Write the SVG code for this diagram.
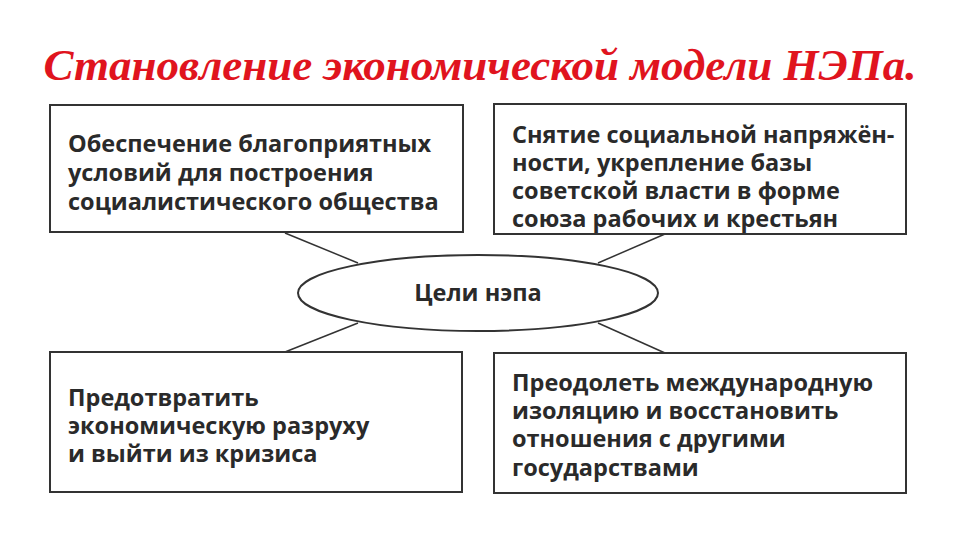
<svg xmlns="http://www.w3.org/2000/svg" width="960" height="540" viewBox="0 0 960 540">
<style>
.t{font-family:"Liberation Serif",serif;font-style:italic;font-weight:bold;font-size:45px;fill:#e0141e}
.b{fill:#fff;stroke:#333;stroke-width:2}
.x{font-family:"Open Sans","Liberation Sans",sans-serif;font-weight:bold;font-size:23.5px;fill:#2a2a2a}
.c{stroke:#333;stroke-width:1.5;fill:none}
</style>
<rect width="960" height="540" fill="#fff"/>
<text class="t" x="480" y="80" text-anchor="middle">Становление экономической модели НЭПа.</text>
<g id="connectors">
<line class="c" x1="285" y1="233" x2="358" y2="263"/>
<line class="c" x1="665" y1="234" x2="598" y2="263"/>
<line class="c" x1="285" y1="352" x2="358" y2="323"/>
<line class="c" x1="665" y1="353" x2="598" y2="323"/>
</g>
<g id="n1"><rect class="b" x="50" y="105" width="413" height="127"/>
<text class="x" x="68" y="152">Обеспечение благоприятных</text>
<text class="x" x="68" y="181">условий для построения</text>
<text class="x" x="68" y="210">социалистического общества</text></g>
<g id="n2"><rect class="b" x="494" y="104" width="412" height="130"/>
<text class="x" x="512" y="143">Снятие социальной напряжён-</text>
<text class="x" x="512" y="171">ности, укрепление базы</text>
<text class="x" x="512" y="199">советской власти в форме</text>
<text class="x" x="512" y="227">союза рабочих и крестьян</text></g>
<g id="center"><ellipse class="b" cx="478" cy="293" rx="180" ry="38"/>
<text class="x" x="478" y="301" text-anchor="middle">Цели нэпа</text></g>
<g id="n3"><rect class="b" x="50" y="352" width="412" height="140"/>
<text class="x" x="68" y="406">Предотвратить</text>
<text class="x" x="68" y="434">экономическую разруху</text>
<text class="x" x="68" y="462">и выйти из кризиса</text></g>
<g id="n4"><rect class="b" x="494" y="353" width="412" height="140"/>
<text class="x" x="512" y="391">Преодолеть международную</text>
<text class="x" x="512" y="419">изоляцию и восстановить</text>
<text class="x" x="512" y="447">отношения с другими</text>
<text class="x" x="512" y="476">государствами</text></g>
</svg>
